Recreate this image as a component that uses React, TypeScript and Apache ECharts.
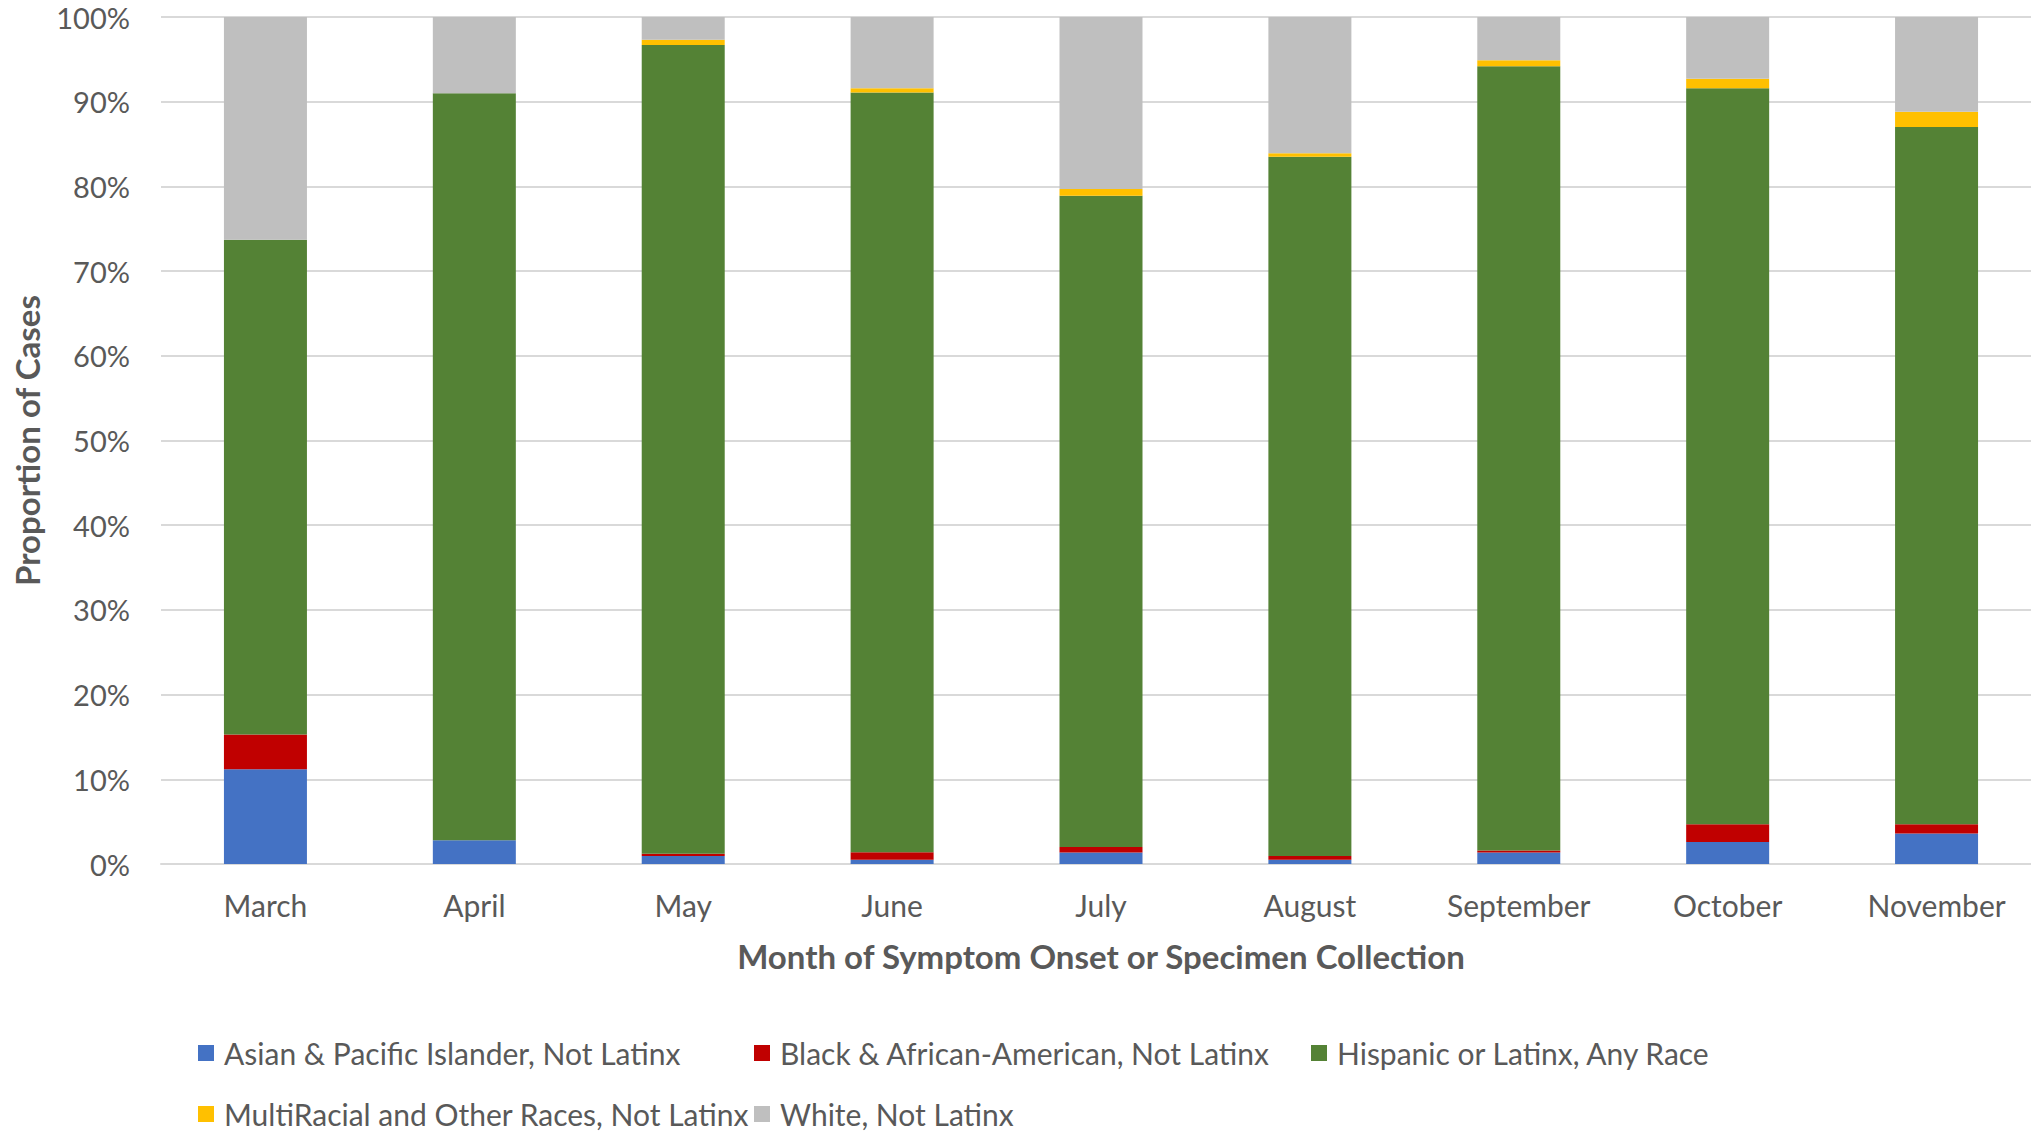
import React, { useEffect, useRef } from "react";
import * as echarts from "echarts";

const months = ["March", "April", "May", "June", "July", "August", "September", "October", "November"];
const seriesNames = [
  "Asian & Pacific Islander, Not Latinx",
  "Black & African-American, Not Latinx",
  "Hispanic or Latinx, Any Race",
  "MultiRacial and Other Races, Not Latinx",
  "White, Not Latinx",
];
const asian = [11.2, 2.8, 0.95, 0.5, 1.35, 0.5, 1.35, 2.6, 3.6];
const black = [4.1, 0, 0.25, 0.9, 0.65, 0.45, 0.25, 2.1, 1.1];
const hispanic = [58.4, 88.2, 95.5, 89.7, 76.9, 82.55, 92.6, 86.9, 82.3];
const multi = [0, 0, 0.6, 0.5, 0.8, 0.4, 0.7, 1.1, 1.8];
const white = [26.3, 9.0, 2.7, 8.4, 20.3, 16.1, 5.1, 7.3, 11.2];
const seriesValues = [asian, black, hispanic, multi, white];
const colors = ["#4472C4", "#C00000", "#548235", "#FFC000", "#BFBFBF"];

const FONT = "Lato";
const TEXT = "#595959";

export default function App() {
  const ref = useRef<HTMLDivElement>(null);
  useEffect(() => {
    if (!ref.current) return;
    const chart = echarts.init(ref.current, undefined, { renderer: "svg" });
    const legendPos = [
      { left: 198, top: 1038 },
      { left: 754, top: 1038 },
      { left: 1311, top: 1038 },
      { left: 198, top: 1099 },
      { left: 754, top: 1099 },
    ];
    chart.setOption({
      animation: false,
      textStyle: { fontFamily: FONT },
      grid: { left: 161, right: 0, top: 17, bottom: 267 },
      legend: seriesNames.map((n, i) => ({
        data: [n],
        left: legendPos[i].left,
        top: legendPos[i].top,
        padding: 0,
        icon: "rect",
        itemWidth: 16,
        itemHeight: 16,
        textStyle: { color: TEXT, fontSize: 30, fontFamily: FONT, padding: [0, 0, 0, 5] },
        selectedMode: false,
      })),
      xAxis: {
        type: "category",
        data: months,
        axisLine: { show: true, lineStyle: { color: "#D9D9D9", width: 2 } },
        axisTick: { show: false },
        axisLabel: { color: TEXT, fontSize: 30, fontFamily: FONT, margin: 26 },
        name: "Month of Symptom Onset or Specimen Collection",
        nameLocation: "middle",
        nameGap: 75,
        nameTextStyle: { color: TEXT, fontSize: 33, fontWeight: "bold", fontFamily: FONT },
      },
      yAxis: {
        type: "value",
        min: 0,
        max: 100,
        interval: 10,
        axisLine: { show: false },
        axisTick: { show: false },
        axisLabel: { color: TEXT, fontSize: 29, fontFamily: FONT, margin: 31, formatter: "{value}%" },
        splitLine: { lineStyle: { color: "#D9D9D9", width: 2 } },
        name: "Proportion of Cases",
        nameLocation: "middle",
        nameGap: 118,
        nameTextStyle: { color: TEXT, fontSize: 33, fontWeight: "bold", fontFamily: FONT },
      },
      series: seriesNames.map((n, i) => ({
        name: n,
        type: "bar",
        stack: "total",
        barWidth: 83,
        data: seriesValues[i],
        itemStyle: { color: colors[i] },
      })),
    });
    return () => chart.dispose();
  }, []);
  return (
    <div
      ref={ref}
      style={{ position: "fixed", left: 0, top: 0, width: 2041, height: 1131, background: "#fff" }}
    />
  );
}
